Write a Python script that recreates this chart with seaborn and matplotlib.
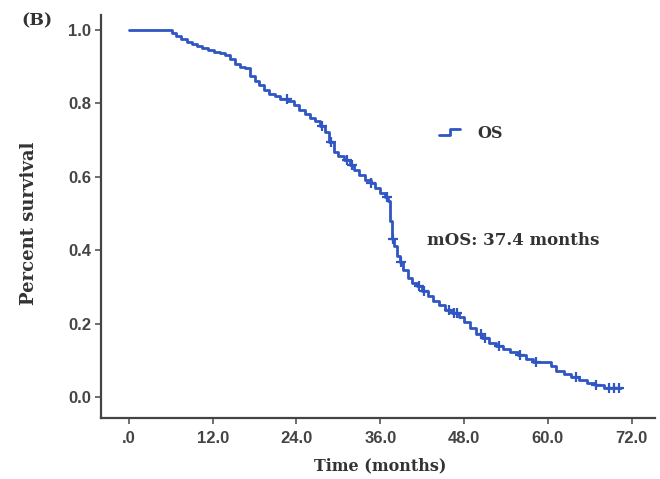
import numpy as np
import pandas as pd
import matplotlib
matplotlib.use("Agg")
import matplotlib.pyplot as plt
import seaborn as sns
from matplotlib.lines import Line2D
from matplotlib.legend_handler import HandlerBase

# ---- data ----
times = [0, 6.2, 6.8, 7.5, 8.3, 9.0, 9.8, 10.5, 11.3, 12.2, 13.0, 13.8, 14.5, 15.2,
         15.9, 16.6, 17.3, 18.0, 18.7, 19.4, 20.1, 20.9, 21.7, 22.8, 23.6, 24.4,
         25.2, 26.0, 26.7, 27.4, 28.1, 28.7, 29.3, 30.0, 30.8, 31.6, 32.3, 33.0,
         33.8, 34.6, 35.3, 36.0, 36.7, 37.1, 37.4, 37.7, 38.0, 38.4, 38.8, 39.3,
         39.9, 40.6, 41.3, 42.0, 42.8, 43.6, 44.4, 45.2, 46.2, 47.2, 48.0, 48.8,
         49.7, 50.6, 51.6, 52.6, 53.6, 54.6, 55.7, 56.8, 57.8, 60.4, 61.2, 62.3,
         63.3, 64.5, 65.6, 66.8, 68.0, 70.5]
survival = [1.0, 0.99, 0.983, 0.975, 0.967, 0.96, 0.955, 0.95, 0.945, 0.94, 0.937,
            0.93, 0.92, 0.905, 0.899, 0.895, 0.875, 0.86, 0.848, 0.835, 0.825,
            0.818, 0.812, 0.806, 0.795, 0.782, 0.77, 0.76, 0.75, 0.737, 0.72,
            0.695, 0.668, 0.655, 0.645, 0.632, 0.618, 0.605, 0.592, 0.582, 0.568,
            0.555, 0.545, 0.535, 0.48, 0.43, 0.41, 0.385, 0.368, 0.345, 0.325,
            0.312, 0.302, 0.29, 0.275, 0.262, 0.252, 0.238, 0.228, 0.218, 0.205,
            0.188, 0.172, 0.16, 0.148, 0.138, 0.13, 0.122, 0.115, 0.105, 0.097,
            0.085, 0.07, 0.062, 0.055, 0.048, 0.04, 0.033, 0.025, 0.025]
censor_times = [22.6, 27.6, 29.0, 31.2, 32.0, 34.7, 37.0, 37.8, 38.9, 41.5, 42.2,
                45.8, 46.5, 47.0, 50.4, 51.0, 53.0, 56.0, 58.3, 64.0, 66.9, 68.8,
                69.5, 70.2]
x_ticks = [0, 12, 24, 36, 48, 60, 72]
x_tick_labels = [".0", "12.0", "24.0", "36.0", "48.0", "60.0", "72.0"]
y_ticks = [0.0, 0.2, 0.4, 0.6, 0.8, 1.0]
y_tick_labels = ["0.0", "0.2", "0.4", "0.6", "0.8", "1.0"]
series_name = "OS"
median_label = "mOS: 37.4 months"

# ---- style ----
sns.set_style("white")
plt.rcParams['font.family'] = ['Liberation Sans', 'DejaVu Sans']
COLOR = "#2f56c2"
TXT = "#333333"

df = pd.DataFrame({"time": times, "surv": survival})
t_arr = np.array(times)
s_arr = np.array(survival)
cens_y = s_arr[np.searchsorted(t_arr, censor_times, side="right") - 1]
cdf = pd.DataFrame({"time": censor_times, "surv": cens_y})

fig = plt.figure(figsize=(6.6, 4.79), dpi=100)
ax = fig.add_axes([0.153, 0.127, 0.839, 0.842])

sns.lineplot(data=df, x="time", y="surv", drawstyle="steps-post", estimator=None,
             color=COLOR, linewidth=2.0, ax=ax)
sns.scatterplot(data=cdf, x="time", y="surv", marker="+", s=55, color=COLOR,
                linewidth=1.6, ax=ax, zorder=3)

ax.set_xlim(-4.0, 75.3)
ax.set_ylim(-0.057, 1.04)
ax.set_xticks(x_ticks)
ax.set_xticklabels(x_tick_labels)
ax.set_yticks(y_ticks)
ax.set_yticklabels(y_tick_labels)

for s in ["top", "right"]:
    ax.spines[s].set_visible(False)
for s in ["left", "bottom"]:
    ax.spines[s].set_linewidth(1.6)
    ax.spines[s].set_color("#444444")
ax.tick_params(axis="both", direction="out", length=4, width=1.2, color="#555555",
               labelsize=12, labelcolor="#444444", pad=3, bottom=True, left=True)
ax.tick_params(axis="x", pad=5)
for lbl in ax.get_xticklabels() + ax.get_yticklabels():
    lbl.set_fontweight("bold")

serif = ['DejaVu Serif']
ax.set_xlabel("Time (months)", fontsize=11.5, fontweight="bold", family=serif,
              color=TXT)
ax.set_ylabel("Percent survival", fontsize=13, fontweight="bold", family=serif,
              color=TXT)
ax.xaxis.set_label_coords(0.505, -0.119)
ax.xaxis.label.set_va("center")
ax.yaxis.set_label_coords(-0.13, 0.484)
ax.yaxis.label.set_va("center")

fig.text(0.032, 0.956, "(B)", fontsize=12.5, fontweight="bold", family=serif,
         color=TXT, va="center", ha="left")

ax.text(0.588, 0.44, median_label, transform=ax.transAxes, fontsize=12,
        fontweight="bold", family=serif, color=TXT, ha="left", va="center")


class StepHandler(HandlerBase):
    def create_artists(self, legend, orig_handle, xdescent, ydescent, width,
                       height, fontsize, trans):
        x0 = -xdescent
        y0 = -ydescent
        xs = [x0, x0 + width * 0.5, x0 + width * 0.5, x0 + width]
        ys = [y0 + height * 0.2, y0 + height * 0.2, y0 + height * 0.8, y0 + height * 0.8]
        ln = Line2D(xs, ys, color=COLOR, linewidth=2.0, transform=trans)
        return [ln]


handle = Line2D([], [], color=COLOR)
leg = ax.legend([handle], [series_name], handler_map={Line2D: StepHandler()},
                loc="center left", bbox_to_anchor=(0.585, 0.707), frameon=False,
                handlelength=1.3, handletextpad=1.1,
                prop={"family": serif, "weight": "bold", "size": 11.5})
for t in leg.get_texts():
    t.set_color(TXT)

fig.savefig("out.png", dpi=100)
